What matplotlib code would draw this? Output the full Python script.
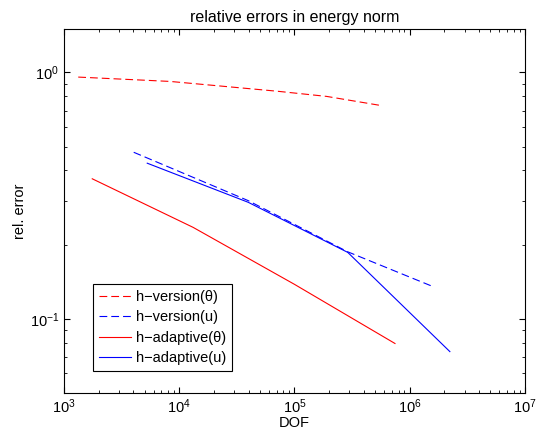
import numpy as np
import matplotlib
matplotlib.use('Agg')
import matplotlib.pyplot as plt

plt.rcParams['font.family'] = ['Liberation Sans', 'DejaVu Sans']
plt.rcParams['mathtext.fontset'] = 'custom'
plt.rcParams['mathtext.rm'] = 'Liberation Sans'
plt.rcParams['mathtext.it'] = 'Liberation Sans:italic'

# values (DOF, relative error)
hver_theta_dof = [1330, 8320, 70100, 190000, 560000]
hver_theta_err = [0.957, 0.919, 0.839, 0.799, 0.734]

hver_u_dof = [4030, 39500, 290000, 1600000]
hver_u_err = [0.474, 0.302, 0.187, 0.135]

hadp_theta_dof = [1760, 13200, 100000, 745000]
hadp_theta_err = [0.370, 0.235, 0.138, 0.0794]

hadp_u_dof = [5280, 39700, 290000, 2230000]
hadp_u_err = [0.428, 0.297, 0.186, 0.0736]

fig = plt.figure(figsize=(5.42, 4.32), dpi=100)
ax = fig.add_axes([0.118, 0.0903, 0.8506, 0.8426])

lw = 0.8
ax.loglog(hver_theta_dof, hver_theta_err, color='red', lw=lw, dashes=(7, 3.6), label='h\u2212version(\u03b8)')
ax.loglog(hver_u_dof, hver_u_err, color='blue', lw=lw, dashes=(7, 3.6), label='h\u2212version(u)')
ax.loglog(hadp_theta_dof, hadp_theta_err, color='red', lw=lw, label='h\u2212adaptive(\u03b8)')
ax.loglog(hadp_u_dof, hadp_u_err, color='blue', lw=lw, label='h\u2212adaptive(u)')

ax.set_xlim(1e3, 1e7)
ax.set_ylim(0.05, 1.5)
ax.set_title('relative errors in energy norm', fontsize=11.5, pad=5)
ax.set_xlabel('DOF', fontsize=10.5, labelpad=0)
ax.set_ylabel('rel. error', fontsize=10.5, labelpad=2)
ax.tick_params(which='both', direction='in', top=True, right=True, labelsize=10.5)
ax.tick_params(which='major', length=4)
ax.tick_params(which='minor', length=2)
for s in ax.spines.values():
    s.set_linewidth(0.8)

leg = ax.legend(loc='lower left', bbox_to_anchor=(0.0636, 0.0596), borderaxespad=0,
                fancybox=False, edgecolor='black', framealpha=1, fontsize=10.5,
                handlelength=2.2, handletextpad=0.3, borderpad=0.4, labelspacing=0.45)
leg.get_frame().set_linewidth(0.8)

fig.savefig('out.png', dpi=100)
